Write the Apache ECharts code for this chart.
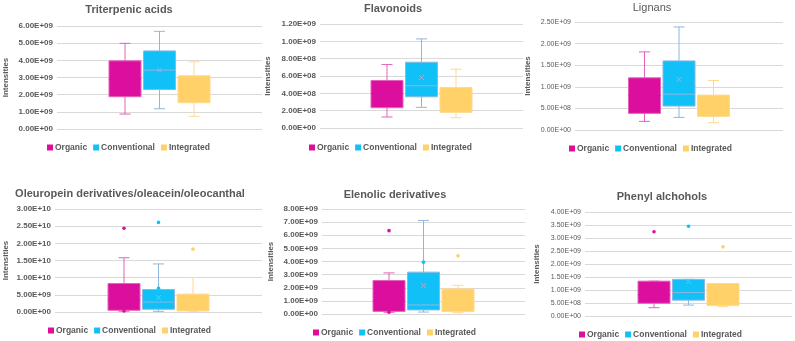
<!DOCTYPE html>
<html>
<head>
<meta charset="utf-8">
<script src="https://cdn.jsdelivr.net/npm/echarts@6/dist/echarts.min.js"></script>
<style>
  html, body { margin: 0; padding: 0; background: #fff; }
  #chart { width: 795px; height: 341px; }
</style>
</head>
<body>
<div id="chart"></div>
<script>
// groups shown in every panel
const groups = ['Organic', 'Conventional', 'Integrated'];

const titles = [
  'Triterpenic acids',
  'Flavonoids',
  'Lignans',
  'Oleuropein derivatives/oleacein/oleocanthal',
  'Elenolic derivatives',
  'Phenyl alchohols'
];

// each box: [min, q1, median, q3, max, mean]  (one row per group)
const triterpenic = [
  [0.87e9, 1.88e9, 2.90e9, 3.97e9, 4.99e9, 2.95e9],
  [1.18e9, 2.30e9, 3.43e9, 4.55e9, 5.69e9, 3.43e9],
  [0.74e9, 1.53e9, 2.30e9, 3.10e9, 3.91e9, 2.30e9]
];
const flavonoids = [
  [1.27e8, 2.34e8, 4.00e8, 5.48e8, 7.32e8, 4.10e8],
  [2.38e8, 3.60e8, 4.87e8, 7.59e8, 10.28e8, 5.82e8],
  [1.19e8, 1.80e8, 3.20e8, 4.68e8, 6.79e8, 3.40e8]
];
const lignans = [
  [2.00e8, 3.85e8, 8.00e8, 12.08e8, 18.08e8, 8.50e8],
  [2.92e8, 5.54e8, 8.30e8, 16.00e8, 23.85e8, 11.70e8],
  [1.69e8, 3.15e8, 5.50e8, 8.08e8, 11.46e8, 6.00e8]
];
const oleuropein = [
  [0.2e9, 0.5e9, 3.5e9, 8.3e9, 15.8e9, 6.5e9],
  [0.2e9, 0.8e9, 2.9e9, 6.55e9, 14.0e9, 4.2e9],
  [0.1e9, 0.3e9, 2.5e9, 5.2e9, 10.05e9, 3.5e9]
];
const elenolic = [
  [0.13e9, 0.20e9, 1.00e9, 2.55e9, 3.13e9, 1.60e9],
  [0.15e9, 0.31e9, 0.69e9, 3.19e9, 7.13e9, 2.17e9],
  [0.10e9, 0.18e9, 0.80e9, 1.91e9, 2.19e9, 1.30e9]
];
const phenyl = [
  [0.32e9, 0.49e9, 0.80e9, 1.34e9, 1.34e9, 1.20e9],
  [0.42e9, 0.61e9, 0.90e9, 1.41e9, 1.41e9, 1.32e9],
  [0.36e9, 0.40e9, 0.70e9, 1.25e9, 1.25e9, 1.00e9]
];

// single points (outliers / inner points) per group
const triterpenicPts = [[], [], []];
const flavonoidsPts = [[], [], []];
const lignansPts = [[], [], []];
const oleuropeinPts = [[24.4e9, 0.3e9], [26.1e9, 6.9e9], [18.3e9]];
const elenolicPts = [[6.35e9, 0.13e9], [3.95e9, 0.9e9], [4.43e9]];
const phenylPts = [[3.24e9], [3.45e9], [2.66e9]];

// y axis ranges: [max, interval]
const yMax = [6e9, 1.2e9, 2.5e9, 3e10, 8e9, 4e9];
const yStep = [1e9, 2e8, 5e8, 5e9, 1e9, 5e8];

const boxes = [triterpenic, flavonoids, lignans, oleuropein, elenolic, phenyl];
const points = [triterpenicPts, flavonoidsPts, lignansPts, oleuropeinPts, elenolicPts, phenylPts];

const fillColor = ['#DB0E9E', '#10C0F7', '#FFD168'];
const lineColor = ['#E462BB', '#8EB7E0', '#FFD98E'];
const innerColor = ['#DB0E9E', '#8EB7E0', '#FFD168'];
const textColor = '#595959';

// layout of the six panels
const grids = [
  { left: 57, top: 26, width: 205, height: 103 },
  { left: 320, top: 24, width: 203, height: 104 },
  { left: 575, top: 22, width: 208, height: 108 },
  { left: 55, top: 209, width: 207, height: 103 },
  { left: 322, top: 209, width: 203, height: 105 },
  { left: 585, top: 212, width: 207, height: 104 }
];
const titlePos = [[129, 4], [393, 3], [652, 2], [130, 188], [395, 189], [662, 191]];
const titleBold = [true, true, false, true, true, true];
const legendPos = [[47, 143], [309, 143], [569, 144], [48, 326], [313, 328], [579, 330]];
const nameGap = [47, 48, 43, 45, 47, 44];
const labelBold = [true, true, false, true, true, false];
const labelSize = [8, 8, 7, 8, 8, 7];

const SPACING = 34.5, HALF = 16, CAP = 5.5;

function sci(v) {
  const s = v.toExponential(2).toUpperCase();
  return s.replace(/E([+-])(\d)$/, function (m, sign, d) { return 'E' + sign + '0' + d; });
}

function boxRender(g) {
  return function (params, api) {
    const cx = api.coord([0, 0])[0] + (g - 1) * SPACING;
    const y = function (i) { return api.coord([0, api.value(i)])[1]; };
    const yMin = y(1), yQ1 = y(2), yMed = y(3), yQ3 = y(4), yMx = y(5), yMean = y(6);
    const ls = { stroke: lineColor[g], lineWidth: 1 };
    const inner = { stroke: innerColor[g], lineWidth: 1 };
    return {
      type: 'group',
      children: [
        { type: 'line', shape: { x1: cx, y1: yMx, x2: cx, y2: yQ3 }, style: ls },
        { type: 'line', shape: { x1: cx - CAP, y1: yMx, x2: cx + CAP, y2: yMx }, style: ls },
        { type: 'line', shape: { x1: cx, y1: yQ1, x2: cx, y2: yMin }, style: ls },
        { type: 'line', shape: { x1: cx - CAP, y1: yMin, x2: cx + CAP, y2: yMin }, style: ls },
        { type: 'rect', shape: { x: cx - HALF, y: yQ3, width: HALF * 2, height: yQ1 - yQ3 },
          style: { fill: fillColor[g], stroke: lineColor[g], lineWidth: 1 } },
        { type: 'line', shape: { x1: cx - HALF, y1: yMed, x2: cx + HALF, y2: yMed }, style: inner },
        { type: 'line', shape: { x1: cx - 2.5, y1: yMean - 2.5, x2: cx + 2.5, y2: yMean + 2.5 }, style: inner },
        { type: 'line', shape: { x1: cx - 2.5, y1: yMean + 2.5, x2: cx + 2.5, y2: yMean - 2.5 }, style: inner }
      ]
    };
  };
}

function pointRender(g) {
  return function (params, api) {
    const c = api.coord([0, api.value(1)]);
    return {
      type: 'circle',
      shape: { cx: c[0] + (g - 1) * SPACING, cy: c[1], r: 1.8 },
      style: { fill: fillColor[g] }
    };
  };
}

const option = {
  animation: false,
  backgroundColor: '#fff',
  textStyle: { fontFamily: 'Liberation Sans' },
  title: [], legend: [], grid: [], xAxis: [], yAxis: [], series: []
};

for (let p = 0; p < 6; p++) {
  option.title.push({
    text: titles[p],
    left: titlePos[p][0], top: titlePos[p][1],
    textAlign: 'center', padding: 0,
    textStyle: { fontSize: 11, fontWeight: titleBold[p] ? 'bold' : 'normal', color: textColor }
  });
  option.legend.push({
    data: groups,
    left: legendPos[p][0], top: legendPos[p][1],
    padding: 0, icon: 'rect', itemWidth: 6, itemHeight: 6, itemGap: 6,
    selectedMode: false,
    textStyle: { fontSize: 8.5, fontWeight: 'bold', color: textColor, padding: [0, 0, 0, -3] }
  });
  option.grid.push(grids[p]);
  option.xAxis.push({
    type: 'category', gridIndex: p, data: [''], show: false
  });
  option.yAxis.push({
    type: 'value', gridIndex: p, min: 0, max: yMax[p], interval: yStep[p],
    name: 'Intensities', nameLocation: 'middle', nameGap: nameGap[p],
    nameTextStyle: { fontSize: 8, fontWeight: 'bold', color: textColor },
    axisLine: { show: false }, axisTick: { show: false },
    axisLabel: { formatter: sci, margin: 4, fontSize: labelSize[p],
      fontWeight: labelBold[p] ? 'bold' : 'normal', color: textColor },
    splitLine: { lineStyle: { color: '#D9D9D9', width: 1 } }
  });
  for (let g = 0; g < 3; g++) {
    const b = boxes[p][g];
    option.series.push({
      type: 'custom', name: groups[g], xAxisIndex: p, yAxisIndex: p,
      itemStyle: { color: fillColor[g] },
      renderItem: boxRender(g),
      encode: { x: 0, y: [1, 2, 3, 4, 5] },
      data: [[0, b[0], b[1], b[2], b[3], b[4], b[5]]]
    });
    if (points[p][g].length) {
      option.series.push({
        type: 'custom', name: groups[g], xAxisIndex: p, yAxisIndex: p,
        itemStyle: { color: fillColor[g] },
        renderItem: pointRender(g),
        encode: { x: 0, y: 1 },
        data: points[p][g].map(function (v) { return [0, v]; })
      });
    }
  }
}

const chart = echarts.init(document.getElementById('chart'));
chart.setOption(option);
</script>
</body>
</html>
